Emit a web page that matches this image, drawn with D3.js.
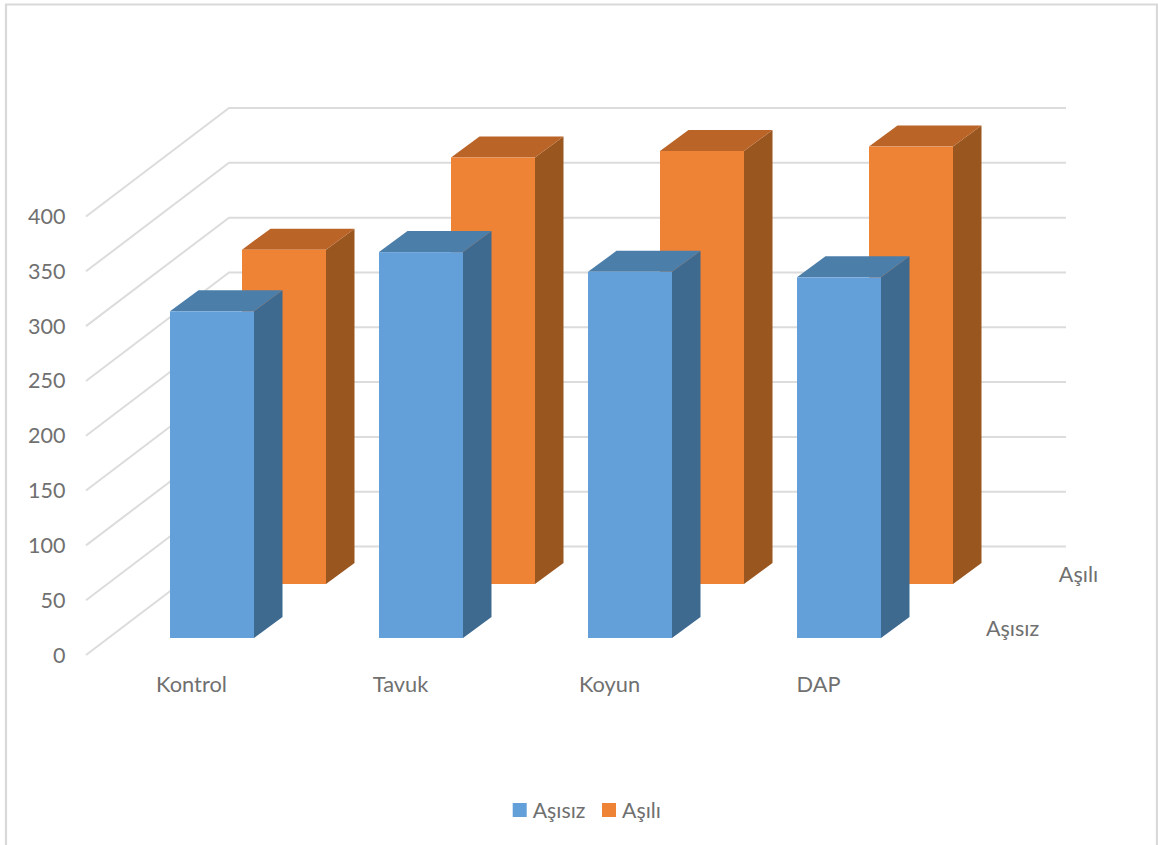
<!DOCTYPE html>
<html><head><meta charset="utf-8">
<script src="https://cdn.jsdelivr.net/npm/d3@7/dist/d3.min.js"></script>
<style>html,body{margin:0;padding:0;background:#fff}svg{display:block}text{font-family:Lato,"Open Sans",sans-serif;fill:#707070}</style>
</head><body><div id="chart"></div>
<script>
const categories = ["Kontrol", "Tavuk", "Koyun", "DAP"];
const seriesNames = ["Aşısız", "Aşılı"];
const asisiz = [298, 352, 334, 329];
const asili = [305, 389, 395, 399];
const yTicks = [0, 50, 100, 150, 200, 250, 300, 350, 400];

const W = 1158, H = 845;
const svg = d3.select("#chart").append("svg").attr("width", W).attr("height", H);

// frame
svg.append("path").attr("d", "M6,845V4.5H1157V845").attr("fill", "none").attr("stroke", "#d9d9d9").attr("stroke-width", 2.2);

const y = d3.scaleLinear().domain([0, 400]).range([0, 438.5]);
const x = d3.scalePoint().domain(categories).range([170, 797]);
const barW = 84, depthDx = 28.5, depthDy = 21;
const sx = d3.scalePoint().domain(seriesNames).range([0, 72]);
const sBase = d3.scalePoint().domain(seriesNames).range([638, 584]);

// grid
const backX0 = 229, backX1 = 1066, backY0 = 546.5, wallDx = 143, wallDy = 108.5;
const grid = svg.append("g").attr("fill", "none").attr("stroke", "#dcdcdc").attr("stroke-width", 2);
grid.selectAll("path").data(yTicks).join("path")
  .attr("d", d => {
    const yy = backY0 - y(d);
    return `M${backX0 - wallDx},${yy + wallDy}L${backX0},${yy}H${backX1}`;
  });

// y labels
svg.append("g").selectAll("text").data(yTicks).join("text")
  .attr("x", 65.5).attr("y", d => backY0 + wallDy - y(d) + 7.5)
  .attr("text-anchor", "end").attr("font-size", 21.5).text(d => d);

const palette = {
  "Aşısız": {front: "#639fd8", side: "#3f6a90", top: "#4c7eaa"},
  "Aşılı": {front: "#ee8336", side: "#9a561f", top: "#ba6428"}
};

function drawSeries(name, values) {
  const g = svg.append("g");
  const c = palette[name];
  categories.forEach((cat, i) => {
    const x0 = x(cat) + sx(name), x1 = x0 + barW;
    const b = sBase(name), t = b - y(values[i]);
    const bar = g.append("g");
    bar.append("path").attr("fill", c.side)
      .attr("d", `M${x1},${b}V${t}L${x1 + depthDx},${t - depthDy}V${b - depthDy}Z`);
    bar.append("path").attr("fill", c.top)
      .attr("d", `M${x0},${t}L${x0 + depthDx},${t - depthDy}H${x1 + depthDx}L${x1},${t}Z`);
    bar.append("rect").attr("fill", c.front)
      .attr("x", x0).attr("y", t).attr("width", barW).attr("height", b - t);
  });
}
drawSeries("Aşılı", asili);
drawSeries("Aşısız", asisiz);

// category labels
svg.append("g").selectAll("text").data(categories).join("text")
  .attr("x", d => x(d) + 21.5).attr("y", 692)
  .attr("text-anchor", "middle").attr("font-size", 21.8).text(d => d);

// series depth labels
const seriesLabelPos = {"Aşısız": [1012.5, 636], "Aşılı": [1078.5, 582]};
svg.append("g").selectAll("text").data(seriesNames).join("text")
  .attr("x", d => seriesLabelPos[d][0]).attr("y", d => seriesLabelPos[d][1])
  .attr("text-anchor", "middle").attr("font-size", 21.5).text(d => d);

// legend
const legendX = {"Aşısız": 512.7, "Aşılı": 602};
const legend = svg.append("g").selectAll("g").data(seriesNames).join("g");
legend.append("rect").attr("x", d => legendX[d]).attr("y", 803).attr("width", 14).attr("height", 14)
  .attr("fill", d => palette[d].front);
legend.append("text").attr("x", d => legendX[d] + 20).attr("y", 817.5).attr("font-size", 21.3).text(d => d);
</script></body></html>
